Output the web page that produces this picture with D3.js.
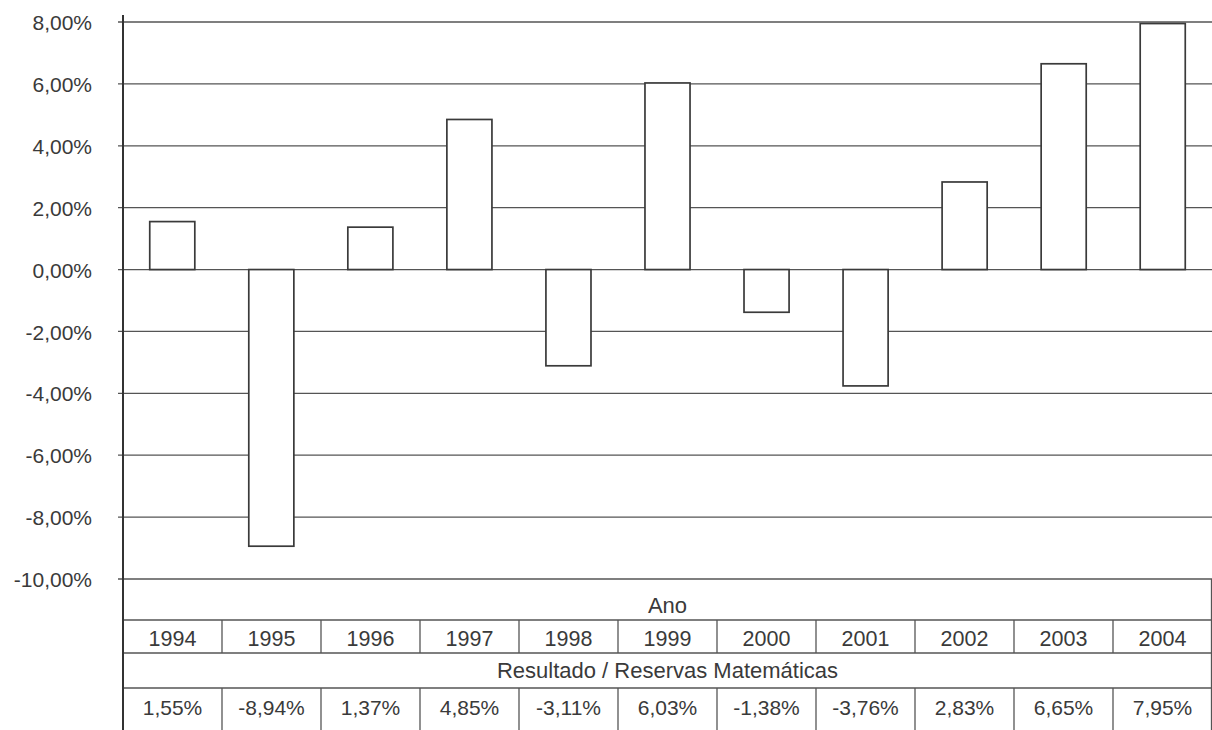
<!DOCTYPE html>
<html><head><meta charset="utf-8">
<script src="https://cdn.jsdelivr.net/npm/d3@7"></script>
<style>
body{margin:0;background:#fff;}
text{font-family:"Liberation Sans",Arial,sans-serif;fill:#3a3a3a;}
</style></head>
<body><svg id="c" width="1212" height="730"></svg>
<script>
const years = ["1994","1995","1996","1997","1998","1999","2000","2001","2002","2003","2004"];
const values = [1.55,-8.94,1.37,4.85,-3.11,6.03,-1.38,-3.76,2.83,6.65,7.95];
const valueLabels = ["1,55%","-8,94%","1,37%","4,85%","-3,11%","6,03%","-1,38%","-3,76%","2,83%","6,65%","7,95%"];
const yTicks = [8,6,4,2,0,-2,-4,-6,-8,-10];
const rowTitleX = "Ano";
const rowTitleSeries = "Resultado / Reservas Matemáticas";

const svg = d3.select("#c");
const left = 123, right = 1212;
const y = d3.scaleLinear().domain([-10, 8]).range([579, 22]);
const x = d3.scaleBand().domain(years).range([left, right]).paddingInner(0.545).paddingOuter(0.27);
const col = d3.scaleBand().domain(years).range([left, right]);
const fmt = d => (d < 0 ? "-" : "") + d3.format(".2f")(Math.abs(d)).replace(".", ",") + "%";

// gridlines
svg.append("g").selectAll("line").data(yTicks).join("line")
  .attr("x1", left - 5).attr("x2", right)
  .attr("y1", d => y(d)).attr("y2", d => y(d))
  .attr("stroke", "#555").attr("stroke-width", 1.3);

// y axis labels
const yAxis = d3.axisLeft(y).tickValues(yTicks).tickFormat(fmt).tickSize(0).tickPadding(31);
const ga = svg.append("g").attr("transform", `translate(${left},0)`).call(yAxis);
ga.select(".domain").remove();
ga.selectAll("text").attr("font-size", 21).attr("fill", "#3a3a3a")
  .style("font-family", '"Liberation Sans",Arial,sans-serif').attr("dy", "0.36em");

// bars
svg.append("g").selectAll("rect").data(values).join("rect")
  .attr("x", (d, i) => x(years[i]))
  .attr("width", x.bandwidth())
  .attr("y", d => y(Math.max(0, d)))
  .attr("height", d => Math.abs(y(d) - y(0)))
  .attr("fill", "#fff").attr("stroke", "#3a3a3a").attr("stroke-width", 1.7);

// table
const rows = {anoTop: 579, yearTop: 620, resTop: 653, valTop: 688, bottom: 730};
const t = svg.append("g");
[rows.yearTop, rows.resTop, rows.valTop].forEach(v => {
  t.append("line").attr("x1", left).attr("x2", right).attr("y1", v).attr("y2", v)
    .attr("stroke", "#555").attr("stroke-width", 1.4);
});
// vertical separators
years.slice(1).forEach(yr => {
  const xv = col(yr);
  t.append("line").attr("x1", xv).attr("x2", xv).attr("y1", rows.yearTop).attr("y2", rows.resTop)
    .attr("stroke", "#555").attr("stroke-width", 1.3);
  t.append("line").attr("x1", xv).attr("x2", xv).attr("y1", rows.valTop).attr("y2", rows.bottom)
    .attr("stroke", "#555").attr("stroke-width", 1.3);
});
t.append("line").attr("x1", right - 0.5).attr("x2", right - 0.5).attr("y1", rows.anoTop).attr("y2", rows.bottom)
  .attr("stroke", "#555").attr("stroke-width", 1.3);

t.append("text").attr("x", (left + right) / 2).attr("y", 605)
  .attr("dy", "0.36em").attr("text-anchor", "middle").attr("font-size", 22).attr("fill", "#222").text(rowTitleX);
t.append("text").attr("x", (left + right) / 2).attr("y", 670)
  .attr("dy", "0.36em").attr("text-anchor", "middle").attr("font-size", 22).attr("fill", "#222").text(rowTitleSeries);
t.selectAll(".yr").data(years).join("text").attr("class", "yr")
  .attr("x", d => col(d) + col.bandwidth() / 2).attr("y", 638)
  .attr("dy", "0.36em").attr("text-anchor", "middle").attr("font-size", 21.5).text(d => d);
t.selectAll(".vl").data(valueLabels).join("text").attr("class", "vl")
  .attr("x", (d, i) => col(years[i]) + col.bandwidth() / 2).attr("y", 707)
  .attr("dy", "0.36em").attr("text-anchor", "middle").attr("font-size", 21).text(d => d);

// left axis line
svg.append("line").attr("x1", left).attr("x2", left).attr("y1", 15).attr("y2", 730)
  .attr("stroke", "#333").attr("stroke-width", 2);
</script></body></html>
